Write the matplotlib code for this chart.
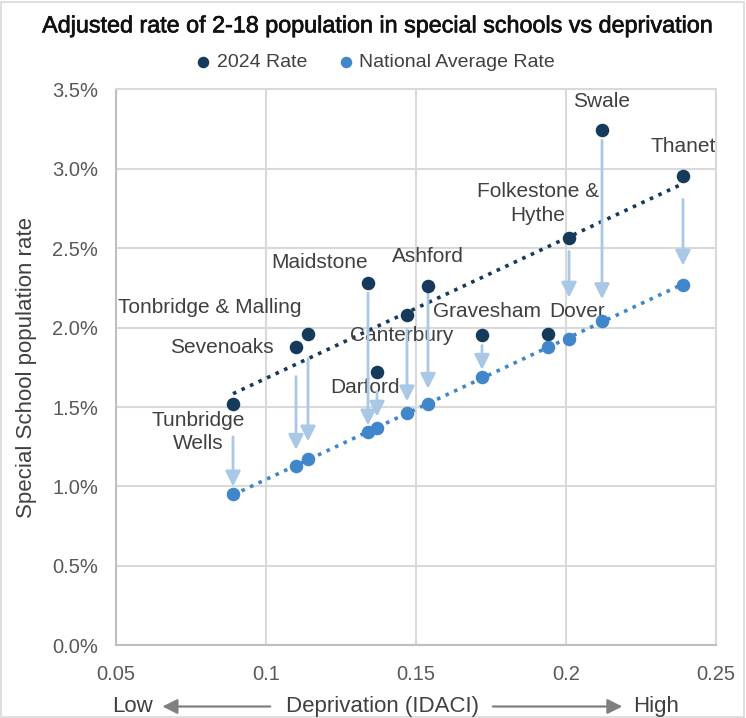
import numpy as np
import matplotlib.pyplot as plt
from matplotlib.patches import Rectangle, FancyArrowPatch
from matplotlib.ticker import FuncFormatter
import matplotlib.patheffects as pe

plt.rcParams['font.family'] = ['Liberation Sans', 'DejaVu Sans']

# data
districts = ['Tunbridge\nWells', 'Sevenoaks', 'Tonbridge & Malling', 'Maidstone', 'Darford',
             'Canterbury', 'Ashford', 'Gravesham', 'Dover', 'Folkestone &\nHythe', 'Swale', 'Thanet']
idaci = [0.089, 0.110, 0.114, 0.134, 0.137, 0.147, 0.154, 0.172, 0.194, 0.201, 0.212, 0.239]
rate_2024 = [1.52, 1.88, 1.96, 2.28, 1.72, 2.08, 2.26, 1.95, 1.96, 2.56, 3.24, 2.95]
rate_nat = [0.95, 1.13, 1.17, 1.34, 1.37, 1.46, 1.52, 1.69, 1.88, 1.93, 2.04, 2.27]

# label offsets (px) and arrow trimming (px) - layout only
lab_off = [(-35, -28), (-22, -1), (-98, 26), (-48, 20), (-12, -15), (-5, -21),
           (0, 30), (5, 24), (29, 22), (-31, 35), (0, 29), (0, 30)]
lab_ha = ['center', 'right', 'center', 'center', 'center', 'center',
          'center', 'center', 'center', 'center', 'center', 'center']
arr_trim = [(33, 8), (30, 16), (25, 18), (10, 7), (20, 11), (15, 12),
            (8, 15), (10, 7), None, (13, 41), (10, 22), (23, 19)]

dark = '#163a5c'
light = '#3f86cb'
arrow_col = '#a8c8e6'
grid_col = '#d9d9d9'
txt = '#404040'

fig = plt.figure(figsize=(7.46, 7.18), dpi=100)
ax = fig.add_axes([0.1555, 0.101, 0.8043, 0.775])

x = np.array(idaci)
y1 = np.array(rate_2024)
y2 = np.array(rate_nat)

# trendlines
for yy, c in [(y1, dark), (y2, light)]:
    m, b = np.polyfit(x, yy, 1)
    xs = np.array([x.min(), x.max()])
    ax.plot(xs, m * xs + b, ls=(0, (1, 1.6)), lw=2.6, color=c, zorder=2)

# arrows
px2pt = 0.72
for i in range(len(x)):
    if arr_trim[i] is None:
        continue
    sa, sb = arr_trim[i]
    ax.annotate('', xy=(x[i], y2[i]), xytext=(x[i], y1[i]),
                arrowprops=dict(arrowstyle='-|>,head_length=0.6,head_width=0.3',
                                color=arrow_col, lw=2, mutation_scale=15,
                                shrinkA=sa * px2pt, shrinkB=sb * px2pt), zorder=3)

ax.scatter(x, y1, s=95, color=dark, zorder=4, label='2024 Rate', linewidths=0)
ax.scatter(x, y2, s=95, color=light, zorder=4, label='National Average Rate', linewidths=0)

for i, name in enumerate(districts):
    dx, dy = lab_off[i]
    ax.annotate(name, xy=(x[i], y1[i]), xytext=(dx * px2pt, dy * px2pt),
                textcoords='offset points', ha=lab_ha[i], va='center',
                fontsize=15, color=txt, linespacing=1.3, zorder=2.5)

ax.set_xlim(0.05, 0.25)
ax.set_ylim(0, 3.5)
ax.set_xticks([0.05, 0.1, 0.15, 0.2, 0.25])
ax.set_xticklabels(['0.05', '0.1', '0.15', '0.2', '0.25'])
ax.set_yticks(np.arange(0, 3.51, 0.5))
ax.yaxis.set_major_formatter(FuncFormatter(lambda v, p: f'{v:.1f}%'))
ax.grid(True, color=grid_col, lw=1.5)
ax.set_axisbelow(True)
for s in ax.spines.values():
    s.set_color(grid_col)
    s.set_linewidth(1.5)
ax.spines['left'].set_color('#bfbfbf')
ax.spines['bottom'].set_color('#bfbfbf')
ax.tick_params(length=0, labelsize=14.5, labelcolor='#595959')
ax.tick_params(axis='x', pad=14)
ax.tick_params(axis='y', pad=13)
ax.set_ylabel('Special School population rate', fontsize=16, color=txt, labelpad=11)

fig.text(0.508, 0.964, 'Adjusted rate of 2-18 population in special schools vs deprivation',
         ha='center', va='center', fontsize=16.8, color='#111111',
         path_effects=[pe.withStroke(linewidth=0.5, foreground='#111111')])
fig.legend(loc='center', bbox_to_anchor=(0.503, 0.913), ncol=2, frameon=False,
           fontsize=14, handlelength=0.8, handletextpad=0.3, columnspacing=1.6,
           markerscale=0.85, labelcolor=txt)

# bottom axis description
yb = 0.016
fig.text(0.177, yb, 'Low', ha='center', va='center', fontsize=16, color=txt)
fig.text(0.513, yb, 'Deprivation (IDACI)', ha='center', va='center', fontsize=16, color=txt)
fig.text(0.879, yb, 'High', ha='center', va='center', fontsize=16, color=txt)
for a, b in [((0.366, yb), (0.214, yb)), ((0.657, yb), (0.838, yb))]:
    fig.patches.append(FancyArrowPatch(
        a, b, transform=fig.transFigure,
        arrowstyle='-|>,head_length=0.6,head_width=0.3', mutation_scale=15,
        color='#808080', lw=1.6))

fig.patches.append(Rectangle((0.002, 0.002), 0.995, 0.995, transform=fig.transFigure,
                             fill=False, ec=grid_col, lw=1.2))

fig.savefig('out.png', dpi=100)
